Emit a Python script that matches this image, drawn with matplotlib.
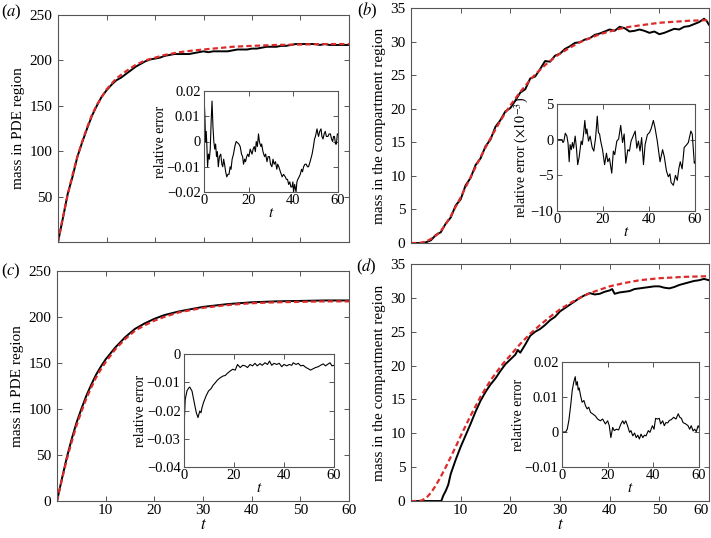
import matplotlib
matplotlib.use("Agg")
import matplotlib.pyplot as plt
from matplotlib.ticker import FuncFormatter

plt.rcParams["font.family"] = ["Liberation Serif", "DejaVu Serif"]
plt.rcParams["mathtext.fontset"] = "stix"

# ---- panel (a): mass in PDE region ----
t_a_pde = [0, 1, 2, 3, 4, 5, 6, 7, 8, 10, 12, 14, 16, 18, 20, 22, 25, 28, 32, 36, 40, 45, 50, 55, 60]
m_a_pde = [0, 27, 52, 74, 94, 111, 126, 140, 151, 168, 180, 188, 195, 200, 203, 206, 209, 211, 213, 215,
           216, 217, 217.5, 218, 218]
t_a_sim = [0, 1, 2, 3, 4, 5, 6, 7, 8, 9, 10, 11, 12, 13, 14, 15, 16, 17, 18, 19, 20, 21, 22, 23, 24, 25,
           26, 27, 28, 29, 30, 31, 32, 33, 34, 35, 36, 37, 38, 39, 40, 41, 42, 43, 44, 45, 46, 47, 48, 49,
           50, 51, 52, 53, 54, 55, 56, 57, 58, 59, 60]
m_a_sim = [0, 26, 53, 72, 94, 110, 125, 139, 150, 160, 167, 173, 178, 181, 185, 189, 193, 196, 199, 201,
           202, 203, 205, 206, 207, 207, 207, 207, 208, 209, 210, 209, 210, 210, 210, 210, 211, 212, 212,
           212, 213, 213, 214, 215, 215, 215, 216, 216, 217, 218, 218, 218, 218, 218, 217, 218, 217, 217,
           217, 217, 217]
t_a_err = [0.0, 0.4, 0.7, 1.0, 1.3, 1.6, 2.0, 2.4, 2.8, 3.2, 3.6, 4.0, 4.4, 4.8, 5.2, 5.6, 6.0, 6.4, 6.9,
           7.5, 8.0, 8.4, 8.8, 9.2, 9.7, 10.2, 10.7, 11.2, 11.7, 12.1, 12.6, 13.2, 13.8, 14.4, 15.0, 15.6,
           16.2, 16.8, 17.3, 17.7, 18.2, 18.6, 19.1, 19.6, 20.1, 20.7, 21.1, 21.5, 22.0, 22.5, 23.0, 23.4,
           23.9, 24.4, 24.8, 25.1, 25.5, 25.8, 26.4, 27.1, 27.6, 28.2, 28.7, 29.3, 29.8, 30.4, 30.9, 31.4,
           32.0, 32.6, 33.0, 33.5, 34.2, 35.0, 35.6, 36.4, 36.9, 37.4, 37.9, 38.4, 38.9, 39.4, 39.8, 40.1,
           40.6, 41.2, 41.6, 42.0, 42.6, 43.1, 43.7, 44.1, 44.6, 45.2, 45.8, 46.3, 46.8, 47.5, 48.4, 49.0,
           49.5, 49.9, 50.6, 51.0, 51.3, 51.8, 52.4, 52.8, 53.3, 53.8, 54.3, 54.8, 55.5, 56.0, 56.6, 57.1,
           57.6, 58.0, 58.4, 58.9, 59.3, 59.7, 60.0]
e_a_err = [18, 10, 0, 4, -2, -10, -5, -7, -3, 8, 16, 6, 0, -3, -1, -6, -4, -10, -6, -5, -9, -10, -7, -9,
           -12, -14, -13, -13, -10, -11, -7, -5, -2, 0, -0.5, -1, -2, -5, -6, -9, -7, -8, -6, -5, -6, -3,
           -4, -5, -3, -2, -4, 0, -2, 3, 0, -1, -2, -1, -4, -6, -5, -8, -6, -6, -9, -10, -7, -9, -8, -11,
           -9, -10, -12, -14, -13, -14, -15, -15, -17, -16, -18, -18, -16, -20, -17, -20, -16, -15, -14,
           -13, -11, -12, -10, -9, -9, -10, -10, -8, -5, -2, 1, 2, 5, 3, 2, 4, 5, 2, 1, 3, 4, 2, 2, 3, 3,
           1, 0, 2, 2, -1, -1, 3, 3]  # x 1e-3

# ---- panel (b): mass in compartment region ----
t_b_pde = [0, 1, 2, 3, 4, 5, 6, 7, 8, 9, 10, 11, 12, 13, 14, 15, 16, 17, 18, 19, 20, 21, 22, 23, 24, 25,
           26, 27, 28, 29, 30, 32, 34, 36, 38, 40, 42, 44, 46, 48, 50, 52, 54, 56, 58, 60]
m_b_pde = [0, 0, 0.05, 0.2, 0.6, 1.1, 1.8, 2.8, 4.0, 5.4, 6.8, 8.3, 9.8, 11.3, 12.8, 14.2, 15.6, 16.9,
           18.2, 19.4, 20.5, 21.5, 22.5, 23.4, 24.3, 25.1, 25.8, 26.5, 27.1, 27.7, 28.2, 29.1, 29.9, 30.5,
           31.1, 31.5, 31.9, 32.2, 32.4, 32.6, 32.8, 32.9, 33.0, 33.1, 33.15, 33.2]
t_b_sim = [0, 1, 2, 3, 4, 5, 6, 7, 8, 9, 10, 11, 12, 13, 14, 15, 16, 17, 18, 19, 20, 21, 22, 23, 24, 25,
           26, 27, 28, 29, 30, 31, 32, 33, 34, 35, 36, 37, 38, 39, 40, 41, 42, 43, 44, 45, 46, 47, 48, 49,
           50, 51, 52, 53, 54, 55, 56, 57, 58, 59, 59.5, 60]
m_b_sim = [0, 0, 0, 0.1, 0.4, 1.2, 1.6, 2.9, 3.8, 5.6, 6.5, 8.6, 9.7, 11.6, 12.6, 14.4, 15.4, 17.3, 18.3,
           19.6, 20.1, 21.2, 22.4, 22.9, 24.5, 24.8, 25.9, 27.1, 27.0, 27.9, 28.2, 28.9, 29.3, 29.8, 29.9,
           30.3, 30.5, 31.0, 31.2, 31.5, 31.8, 31.6, 32.2, 32.0, 31.5, 31.6, 31.8, 31.6, 31.3, 31.5, 31.1,
           31.3, 31.6, 31.9, 31.8, 32.2, 32.3, 32.6, 32.9, 33.4, 33.1, 32.5]
t_b_err = [0, 1, 2.2, 2.6, 3.0, 3.6, 4.3, 4.8, 5.3, 5.7, 6.2, 6.7, 7.2, 7.9, 8.4, 9.0, 9.6, 10.5, 11.0,
           11.6, 12.1, 12.6, 13.0, 13.7, 14.4, 15.3, 16.0, 16.8, 17.5, 18.0, 18.5, 19.0, 19.8, 20.7, 21.5,
           22.1, 22.8, 23.8, 24.5, 25.1, 26.0, 26.8, 27.7, 28.5, 29.2, 29.9, 30.8, 31.5, 32.2, 33.1, 34.0,
           34.7, 35.4, 36.1, 36.8, 37.6, 38.3, 39.3, 40.2, 40.9, 41.9, 42.6, 43.6, 44.8, 45.9, 46.6, 47.6,
           48.4, 49.1, 49.6, 50.6, 51.5, 52.3, 53.0, 53.6, 54.4, 55.3, 56.4, 57.1, 58.2, 58.8, 59.7, 60.0]
e_b_err = [0, 0, 0, -0.4, -0.2, 0.9, 0.5, -0.5, -3.1, -0.7, -1.4, -0.4, -1.2, 0.5, -1.0, -3.5, -2.5, -0.2,
           -0.7, 1.0, 2.7, 0.8, 1.5, -0.2, 0.5, -1.1, -1.6, 0.3, 3.3, 1.0, 0.8, -0.2, -1.4, -3.5, -1.9, -3.1,
           -2.6, -4.7, -1.6, -2.1, -0.2, 0.1, 2.0, -0.4, 0.8, -3.3, -1.4, -1.6, -0.2, 0.5, 1.2, -1.2, -0.2,
           -1.6, 0.3, -3.5, -0.7, 0.7, 1.0, 1.5, 2.7, 1.7, -0.2, -3.1, -1.4, -2.3, -4.4, -5.2, -4.8, -6.0,
           -6.4, -5.0, -5.7, -4.0, -3.1, -4.1, -1.1, -0.7, -0.4, 1.2, 0.8, -3.3, -3.1]  # x 1e-3

# ---- panel (c): mass in PDE region ----
t_c_pde = [0, 1, 2, 3, 4, 5, 6, 7, 8, 9, 10, 12, 14, 16, 18, 20, 22, 25, 28, 30, 35, 40, 45, 50, 55, 60]
m_c_pde = [0, 23, 45, 64, 82, 97, 111, 123, 134, 143, 151, 165, 176, 185, 191, 196, 200, 205, 208, 210,
           213, 215, 216, 216.5, 217, 217]
m_c_sim = [0, 24, 47, 67, 85, 100, 114, 126, 137, 146, 154, 167, 178, 187, 193, 198, 202, 206, 209, 211,
           214, 216, 217, 217.5, 218, 218]
t_c_err = [0.0, 0.2, 0.5, 1.2, 1.9, 2.3, 3.2, 4.1, 4.9, 5.6, 6.3, 6.8, 7.2, 7.8, 8.8, 9.8, 10.8, 11.6,
           12.5, 13.4, 14.5, 15.6, 16.5, 17.4, 18.5, 19.5, 20.5, 21.4, 22.5, 23.5, 24.5, 25.4, 26.4, 27.4,
           28.4, 29.3, 30.4, 31.3, 32.4, 33.4, 34.2, 35.1, 36.0, 37.1, 38.1, 39.1, 40.0, 41.1, 42.1, 43.1,
           43.7, 44.8, 45.7, 46.7, 47.7, 48.8, 49.7, 50.6, 51.7, 52.6, 53.7, 54.6, 55.7, 56.6, 57.4, 58.4,
           59.2, 60.0]
e_c_err = [-31.4, -22.0, -16.0, -13.0, -12.0, -11.7, -13.1, -17.2, -20.7, -22.5, -20.2, -20.8, -19.0,
           -17.2, -14.9, -13.1, -12.3, -11.1, -10.2, -9.2, -8.4, -7.8, -7.6, -6.8, -6.0, -5.4, -5.7, -3.7,
           -4.8, -4.0, -4.2, -4.8, -3.7, -4.2, -3.3, -4.2, -3.4, -4.0, -3.1, -3.7, -2.5, -4.0, -3.3, -3.7,
           -3.3, -4.5, -3.7, -4.2, -3.7, -4.0, -3.1, -3.7, -3.3, -4.2, -4.0, -4.8, -5.2, -5.7, -5.2, -4.8,
           -4.5, -4.0, -3.5, -4.2, -3.7, -3.1, -4.2, -4.0]  # x 1e-3

# ---- panel (d): mass in compartment region ----
t_d_pde = [0, 1, 2, 3, 4, 5, 6, 7, 8, 9, 10, 11, 12, 13, 14, 15, 16, 17, 18, 19, 20, 22, 24, 26, 28, 30,
           32, 34, 36, 38, 40, 43, 46, 50, 55, 60]
m_d_pde = [0, 0, 0.05, 0.4, 1.2, 2.3, 3.6, 5.0, 6.5, 8.0, 9.6, 11.1, 12.6, 14.0, 15.4, 16.6, 17.8, 18.8,
           19.8, 20.7, 21.5, 23.2, 24.7, 26.0, 27.2, 28.3, 29.2, 30.0, 30.7, 31.2, 31.7, 32.2, 32.6, 32.9,
           33.1, 33.2]
t_d_sim = [0, 5, 6.1, 6.5, 7, 7.5, 8, 9, 10, 11, 12, 13, 14, 15, 16, 17, 18, 19, 20, 21, 21.5, 22, 23,
           24, 25, 26, 27, 28, 29, 30, 31, 32, 33, 34, 35, 36, 37, 38, 39, 40, 40.5, 41, 42, 43, 44, 45, 46,
           47, 48, 49, 50, 51, 52, 53, 54, 55, 56, 57, 58, 59, 60]
m_d_sim = [0, 0, 0, 0.8, 1.5, 2.4, 4.0, 6.1, 8.0, 9.7, 11.4, 13.2, 14.8, 16.1, 17.2, 18.1, 19.2, 20.2,
           20.9, 21.6, 22.3, 21.9, 23.1, 24.4, 25.0, 25.4, 26.0, 26.7, 27.2, 28.0, 28.5, 29.0, 29.5, 30.0,
           30.4, 30.7, 30.5, 30.6, 30.9, 31.1, 31.3, 30.6, 30.8, 30.9, 31.0, 31.3, 31.4, 31.5, 31.6, 31.7,
           31.7, 31.5, 31.4, 31.6, 31.9, 32.1, 32.3, 32.5, 32.6, 32.8, 32.6]
t_d_err = [0, 1.6, 2.3, 3.0, 3.8, 4.5, 5.2, 5.8, 6.2, 6.7, 7.1, 7.5, 8.1, 8.8, 9.6, 10.3, 11.0, 11.7,
           12.5, 13.6, 14.6, 15.6, 16.8, 17.8, 19.0, 20.0, 20.7, 21.4, 22.2, 22.9, 23.8, 24.8, 25.8, 26.6,
           27.2, 27.9, 28.7, 29.6, 30.2, 31.0, 31.8, 32.5, 33.2, 33.9, 34.6, 35.4, 36.1, 36.8, 37.8, 38.5,
           39.6, 40.3, 41.0, 41.7, 42.6, 43.2, 44.1, 44.8, 45.5, 46.3, 47.0, 47.8, 48.9, 49.9, 50.9, 51.6,
           52.3, 53.0, 54.2, 55.2, 55.9, 56.6, 57.4, 58.1, 58.8, 59.6, 60.0]
e_d_err = [0, 0, 0.8, 3.3, 7.6, 12.0, 14.4, 15.8, 13.4, 14.4, 12.0, 12.6, 10.5, 8.5, 9.0, 7.5, 6.6, 7.1,
           5.6, 5.1, 4.6, 3.7, 3.2, 3.7, 2.3, 3.2, 1.8, -1.6, 1.3, 0.4, 0.8, 0.6, 2.3, 3.2, 2.3, 3.2, 1.8,
           -0.1, 0.4, -1.1, -0.3, -1.6, -0.9, -2.0, -0.6, -1.6, -0.9, -1.1, 0.4, -0.1, 1.8, 0.8, 3.9, 3.7,
           3.9, 2.3, 3.2, 1.8, 2.7, 2.6, 3.3, 3.5, 4.2, 3.7, 5.2, 4.2, 3.9, 2.7, 2.3, 1.8, 0.8, 1.8, 0.3,
           0.8, 0.1, 1.8, 1.3]  # x 1e-3

W, H = 711, 538
FRAME = "#555555"
RED = "#dd2a2a"


def box(left, top, right, bottom):
    return [left / W, 1 - bottom / H, (right - left) / W, (bottom - top) / H]


def fmt(x, pos):
    return ("%g" % round(x, 6)).replace("-", "\u2212")


def style(ax, size, xpad, ypad):
    for s in ax.spines.values():
        s.set_color(FRAME)
        s.set_linewidth(0.8)
    ax.tick_params(direction="in", top=True, right=True, length=3.5, width=0.7,
                   color=FRAME, labelsize=size)
    ax.tick_params(axis="x", pad=xpad)
    ax.tick_params(axis="y", pad=ypad)
    ax.yaxis.set_major_formatter(FuncFormatter(fmt))
    ax.xaxis.set_major_formatter(FuncFormatter(fmt))


def main_panel(rect, t_sim, m_sim, t_pde, m_pde, ylim, yticks, ylabel, xticks, xlabels):
    ax = fig.add_axes(rect)
    ax.plot(t_sim, m_sim, color="black", lw=1.4)
    ax.plot(t_pde, m_pde, color=RED, lw=1.6, ls=(0, (2.4, 1.4)))
    ax.set_xlim(0, 60)
    ax.set_ylim(*ylim)
    ax.set_yticks(yticks)
    ax.set_xticks(xticks)
    style(ax, 11, 2, 4)
    if xlabels:
        ax.set_xticklabels(xlabels)
        ax.set_xlabel("$t$", fontsize=12, labelpad=0)
    else:
        ax.set_xticklabels([])
    ax.set_ylabel(ylabel, fontsize=11, labelpad=3)
    return ax


def inset(rect, t, e, scale, ylim, yticks, ylabel):
    ax = fig.add_axes(rect)
    ax.plot(t, [v * scale for v in e], color="black", lw=0.8)
    ax.set_xlim(0, 60)
    ax.set_ylim(*ylim)
    ax.set_xticks([0, 20, 40, 60])
    ax.set_yticks(yticks)
    style(ax, 10.5, 1.5, 2.5)
    ax.set_xlabel("$t$", fontsize=11, labelpad=0)
    ax.set_ylabel(ylabel, fontsize=10, labelpad=0)
    return ax


fig = plt.figure(figsize=(W / 100, H / 100), dpi=100)

xt = [0, 10, 20, 30, 40, 50, 60]
xl = ["", "10", "20", "30", "40", "50", "60"]

main_panel(box(58, 15, 349, 242), t_a_sim, m_a_sim, t_a_pde, m_a_pde, (0, 250),
           [50, 100, 150, 200, 250], "mass in PDE region", xt, None)
main_panel(box(411, 8, 709, 243), t_b_sim, m_b_sim, t_b_pde, m_b_pde, (0, 35),
           [0, 5, 10, 15, 20, 25, 30, 35], "mass in the compartment region", xt, None)
main_panel(box(57, 271, 349, 501), t_c_pde, m_c_sim, t_c_pde, m_c_pde, (0, 250),
           [0, 50, 100, 150, 200, 250], "mass in PDE region", xt, xl)
ax_d = main_panel(box(411, 264, 709, 501), t_d_sim, m_d_sim, t_d_pde, m_d_pde, (0, 35),
                  [0, 5, 10, 15, 20, 25, 30, 35], "mass in the compartment region", xt, xl)
ax_d.get_xticklabels()[-1].set_horizontalalignment("right")

inset(box(204, 91, 338, 192), t_a_err, e_a_err, 1e-3, (-0.02, 0.02),
      [-0.02, -0.01, 0, 0.01, 0.02], "relative error")
inset(box(557, 104, 695, 211), t_b_err, e_b_err, 1.0, (-10, 5),
      [-10, -5, 0, 5], r"relative error ($\times10^{-3}$)")
inset(box(184, 354, 334, 467), t_c_err, e_c_err, 1e-3, (-0.04, 0),
      [-0.04, -0.03, -0.02, -0.01, 0], "relative error")
inset(box(562, 362, 699, 467), t_d_err, e_d_err, 1e-3, (-0.01, 0.02),
      [-0.01, 0, 0.01, 0.02], "relative error")

for letter, x, y in [("a", 1, 12), ("b", 357, 11), ("c", 1, 271), ("d", 356, 267)]:
    fig.text(x / W, 1 - y / H, "(" + "$\\it{%s}$" % letter + ")", fontsize=12,
             ha="left", va="center")

fig.savefig("out.png", dpi=100)
